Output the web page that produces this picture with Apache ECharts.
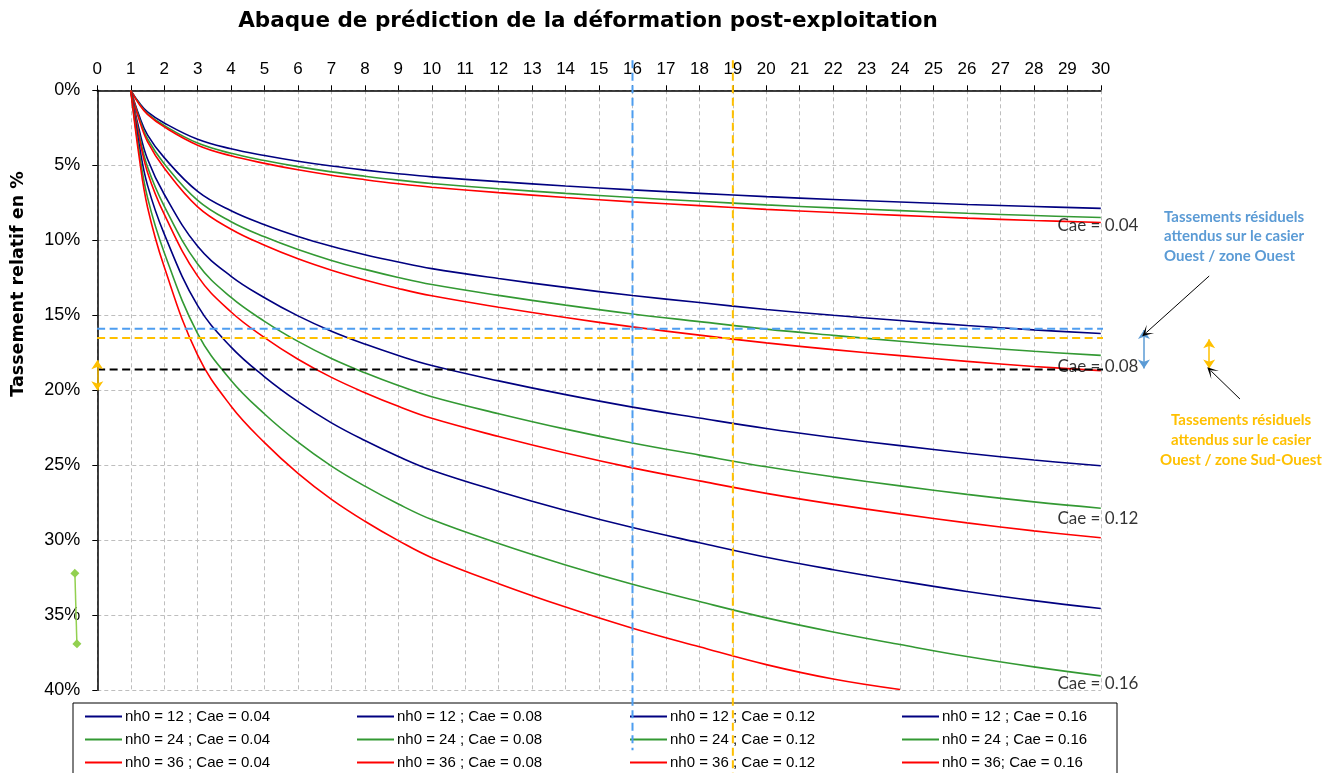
<!DOCTYPE html>
<html><head><meta charset="utf-8">
<script src="https://cdn.jsdelivr.net/npm/echarts@6/dist/echarts.min.js"></script>
<style>html,body{margin:0;padding:0;background:#fff}#c{width:1335px;height:773px}</style>
</head><body><div id="c"></div>
<script>
// ---- data ----
const tValues = [1, 1.25, 1.5, 2, 3, 4, 5, 6, 7, 8, 9, 10, 12, 14, 16, 18, 20, 22, 24, 26, 28, 30];
const n12c04 = [0, 0.82, 1.44, 2.18, 3.27, 3.90, 4.35, 4.73, 5.05, 5.32, 5.56, 5.77, 6.09, 6.38, 6.64, 6.87, 7.09, 7.28, 7.45, 7.61, 7.75, 7.87];
const n24c04 = [0, 0.88, 1.55, 2.35, 3.52, 4.20, 4.68, 5.09, 5.44, 5.73, 5.99, 6.21, 6.56, 6.87, 7.15, 7.40, 7.64, 7.84, 8.02, 8.20, 8.35, 8.48];
const n36c04 = [0, 0.92, 1.61, 2.44, 3.66, 4.37, 4.87, 5.30, 5.66, 5.96, 6.23, 6.46, 6.82, 7.15, 7.44, 7.69, 7.94, 8.15, 8.34, 8.52, 8.68, 8.81];
const n12c08 = [0, 1.69, 2.97, 4.49, 6.74, 8.03, 8.96, 9.74, 10.40, 10.96, 11.45, 11.89, 12.55, 13.14, 13.68, 14.15, 14.61, 15.00, 15.35, 15.68, 15.97, 16.21];
const n24c08 = [0, 1.84, 3.23, 4.89, 7.34, 8.76, 9.77, 10.62, 11.34, 11.94, 12.48, 12.95, 13.67, 14.32, 14.91, 15.42, 15.92, 16.34, 16.73, 17.08, 17.40, 17.67];
const n36c08 = [0, 1.95, 3.42, 5.18, 7.77, 9.26, 10.33, 11.23, 11.99, 12.64, 13.21, 13.70, 14.46, 15.15, 15.77, 16.32, 16.84, 17.29, 17.69, 18.07, 18.41, 18.69];
const n12c12 = [0, 2.61, 4.58, 6.93, 10.40, 12.40, 13.83, 15.04, 16.06, 16.92, 17.68, 18.35, 19.37, 20.29, 21.12, 21.85, 22.55, 23.15, 23.69, 24.20, 24.65, 25.03];
const n24c12 = [0, 2.90, 5.10, 7.72, 11.58, 13.81, 15.40, 16.74, 17.88, 18.83, 19.68, 20.43, 21.56, 22.59, 23.51, 24.32, 25.10, 25.77, 26.37, 26.94, 27.44, 27.86];
const n36c12 = [0, 3.11, 5.46, 8.26, 12.39, 14.78, 16.49, 17.93, 19.14, 20.16, 21.07, 21.87, 23.08, 24.18, 25.17, 26.04, 26.87, 27.59, 28.24, 28.84, 29.37, 29.83];
const n12c16 = [0, 3.60, 6.32, 9.57, 14.36, 17.12, 19.10, 20.76, 22.17, 23.35, 24.41, 25.33, 26.74, 28.01, 29.15, 30.16, 31.13, 31.96, 32.71, 33.41, 34.02, 34.55];
const n24c16 = [0, 4.07, 7.14, 10.81, 16.22, 19.34, 21.58, 23.46, 25.05, 26.39, 27.58, 28.62, 30.21, 31.64, 32.93, 34.08, 35.17, 36.11, 36.95, 37.75, 38.44, 39.04];
const n36c16 = [0, 4.43, 7.78, 11.77, 17.66, 21.06, 23.49, 25.54, 27.27, 28.73, 30.02, 31.16, 32.89, 34.45, 35.86, 37.10, 38.29, 39.25, 39.95, null, null, null];

const seriesNames = [
  'nh0 = 12 ; Cae = 0.04', 'nh0 = 24 ; Cae = 0.04', 'nh0 = 36 ; Cae = 0.04',
  'nh0 = 12 ; Cae = 0.08', 'nh0 = 24 ; Cae = 0.08', 'nh0 = 36 ; Cae = 0.08',
  'nh0 = 12 ; Cae = 0.12', 'nh0 = 24 ; Cae = 0.12', 'nh0 = 36 ; Cae = 0.12',
  'nh0 = 12 ; Cae = 0.16', 'nh0 = 24 ; Cae = 0.16', 'nh0 = 36; Cae = 0.16'
];
const seriesValues = [n12c04, n24c04, n36c04, n12c08, n24c08, n36c08, n12c12, n24c12, n36c12, n12c16, n24c16, n36c16];

// axis ticks
const xMin = 0, xMax = 30, xStep = 1;
const yMin = 0, yMax = 40, yStep = 5;

// reference lines (data units)
const refBlueH = [[-1.5, 15.89], [33.8, 15.89]];
const refOrangeH = [[-1.5, 16.51], [33.8, 16.51]];
const refBlackH = [[-1.5, 18.62], [33.8, 18.62]];
const refBlueV = [[16, -2], [16, 44.0]];
const refOrangeV = [[19, -2], [19, 45.6]];
// annotation arrows (data units)
const arrowBlue = [[31.29, 15.98], [31.29, 18.55]];
const arrowOrangeR = [[33.24, 16.6], [33.24, 18.55]];
const arrowOrangeL = [[0, 18.0], [0, 20.0]];
const pointer1 = [[33.24, 12.38], [31.36, 16.15]];
const pointer2 = [[34.16, 20.58], [33.30, 18.72]];
// stray green series left of axis
const greenStray = [[-0.67, 32.2], [-0.61, 36.9]];
// curve labels
const caeLabels = ['Cae = 0.04', 'Cae = 0.08', 'Cae = 0.12', 'Cae = 0.16'];
const caeLabelPos = [[28.69, 8.99], [28.69, 18.4], [28.69, 28.53], [28.69, 39.53]];

// ---- chart ----
const FONT = '"Liberation Sans", Arial, sans-serif';
const BOLDFONT = '"DejaVu Sans", Verdana, sans-serif';
const colorByNh = ['#000080', '#339933', '#FF0000'];
const chart = echarts.init(document.getElementById('c'), null, {renderer: 'canvas'});

const curveSeries = seriesValues.map((vals, i) => ({
  type: 'line', name: seriesNames[i],
  data: vals.map((v, k) => [tValues[k], v]).filter(p => p[1] !== null),
  smooth: 0.4,
  symbol: 'none', showSymbol: false,
  lineStyle: {color: colorByNh[i % 3], width: 1.6},
  itemStyle: {color: colorByNh[i % 3]},
  z: 3, animation: false
}));

function refLine(data, color, w) {
  return {type: 'line', data: data, clip: false, silent: true, symbol: 'none',
    lineStyle: {color: color, width: w, type: [8, 4.5]}, z: 5, animation: false};
}
function arrowLine(coords, color, w, sym, size) {
  return {type: 'lines', coordinateSystem: 'cartesian2d', clip: false, silent: true,
    symbol: sym, symbolSize: size, polyline: false,
    lineStyle: {color: color, width: w, opacity: 1, curveness: 0},
    itemStyle: {color: color},
    data: [{coords: coords}], z: 6, animation: false};
}

const legendCols = [85, 357, 630, 902];
const legends = legendCols.map((left, c) => ({
  orient: 'vertical', left: left, top: 709, padding: 0,
  icon: 'rect', itemWidth: 37, itemHeight: 2, itemGap: 8,
  data: seriesNames.slice(c * 3, c * 3 + 3),
  textStyle: {fontFamily: FONT, fontSize: 15, color: '#000', padding: [0, 0, 0, -2], lineHeight: 15},
  selectedMode: false
}));

chart.setOption({
  animation: false,
  backgroundColor: '#fff',
  grid: {left: 97.3, right: 234.2, top: 90.3, bottom: 82.7, containLabel: false},
  xAxis: {
    type: 'value', position: 'top', min: xMin, max: xMax, interval: xStep,
    axisLine: {show: true, lineStyle: {color: '#000', width: 1.5}},
    axisTick: {show: true, inside: false, length: 5, lineStyle: {color: '#000'}},
    axisLabel: {fontFamily: FONT, fontSize: 17, color: '#000', margin: 12},
    splitLine: {show: true, lineStyle: {color: '#BEBEBE', width: 1, type: [4, 3]}}
  },
  yAxis: {
    type: 'value', inverse: true, min: yMin, max: yMax, interval: yStep,
    axisLine: {show: true, lineStyle: {color: '#000', width: 1.5}},
    axisTick: {show: true, inside: false, length: 5, lineStyle: {color: '#000'}},
    axisLabel: {fontFamily: FONT, fontSize: 18, color: '#000', margin: 17, formatter: '{value}%'},
    splitLine: {show: true, lineStyle: {color: '#BEBEBE', width: 1, type: [4, 3]}}
  },
  legend: legends,
  series: curveSeries.concat([
    refLine(refBlueH, '#4D9DF0', 2),
    refLine(refOrangeH, '#FFC000', 2),
    refLine(refBlackH, '#000000', 2),
    refLine(refBlueV, '#4D9DF0', 2),
    refLine(refOrangeV, '#FFC000', 2),
    arrowLine(arrowBlue, '#5B9BD5', 1.5, ['arrow', 'arrow'], 9),
    arrowLine(arrowOrangeR, '#FFC000', 1.5, ['arrow', 'arrow'], 9),
    arrowLine(arrowOrangeL, '#FFC000', 1.5, ['arrow', 'arrow'], 9),
    arrowLine(pointer1, '#000000', 1, ['none', 'path://M5,0 L10,10 L5,4 L0,10 Z'], 11),
    arrowLine(pointer2, '#000000', 1, ['none', 'path://M5,0 L10,10 L5,4 L0,10 Z'], 11),
    arrowLine(greenStray, '#92D050', 1.5, ['diamond', 'diamond'], 9),
    {type: 'scatter', clip: false, silent: true, symbolSize: 1, itemStyle: {color: 'transparent'},
      data: caeLabelPos.map((p, i) => ({value: p, name: caeLabels[i]})),
      label: {show: true, position: 'right', distance: 0, formatter: '{b}',
        fontFamily: 'Lato, sans-serif', fontSize: 17, color: '#000'}, z: 7, animation: false}
  ]),
  graphic: [
    {type: 'text', x: 588, y: 21, style: {text: 'Abaque de prédiction de la déformation post-exploitation',
      font: 'bold 21.5px ' + BOLDFONT, fill: '#000', align: 'center', verticalAlign: 'middle'}},
    {type: 'text', x: 18, y: 284, rotation: Math.PI / 2, style: {text: 'Tassement relatif en %',
      font: 'bold 17.5px ' + BOLDFONT, fill: '#000', align: 'center', verticalAlign: 'middle'}},
    {type: 'text', x: 1164, y: 236.5, style: {text: 'Tassements résiduels\nattendus sur le casier\nOuest / zone Ouest',
      font: 'bold 15px Lato, sans-serif', lineHeight: 19.7, fill: '#5B9BD5', align: 'left', verticalAlign: 'middle'}},
    {type: 'text', x: 1241, y: 440, style: {text: 'Tassements résiduels\nattendus sur le casier\nOuest / zone Sud-Ouest',
      font: 'bold 15px Lato, sans-serif', lineHeight: 19.7, fill: '#FFC000', align: 'center', verticalAlign: 'middle'}},
    {type: 'rect', shape: {x: 73, y: 703, width: 1044, height: 90}, style: {fill: 'none', stroke: '#000', lineWidth: 1}, silent: true}
  ]
});
</script>
</body></html>
